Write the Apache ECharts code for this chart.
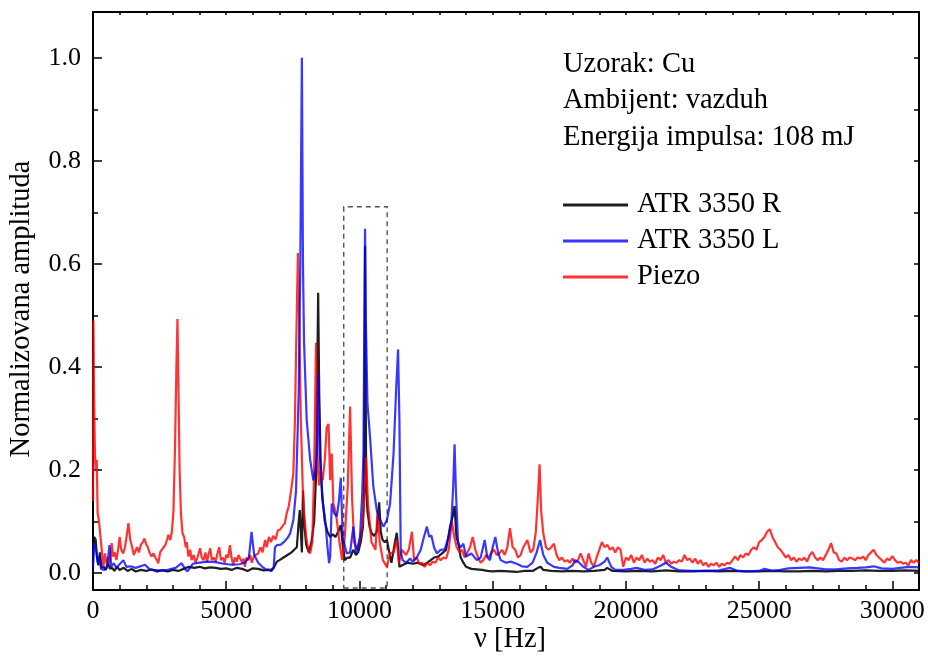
<!DOCTYPE html>
<html>
<head>
<meta charset="utf-8">
<script src="https://cdn.jsdelivr.net/npm/echarts@6/dist/echarts.min.js"></script>
<style>html,body{margin:0;padding:0;background:#fff}#c{width:928px;height:657px}</style>
</head>
<body>
<div id="c"></div>
<script>
// ---- data ----
const seriesNames = ['ATR 3350 R', 'ATR 3350 L', 'Piezo'];
const infoLines = ['Uzorak: Cu', 'Ambijent: vazduh', 'Energija impulsa: 108 mJ'];
const xTicksMajor = [0, 5000, 10000, 15000, 20000, 25000, 30000];
const xTicksMinor = [1000,2000,3000,4000,6000,7000,8000,9000,11000,12000,13000,14000,16000,17000,18000,19000,21000,22000,23000,24000,26000,27000,28000,29000];
const xTicksTop = [1000,2000,3000,4000,5000,6000,7000,8000,9000,10000,11000,12000,13000,14000,15000,16000,17000,18000,19000,20000,21000,22000,23000,24000,25000,26000,27000,28000,29000,30000];
const yTicksMajor = [0, 0.2, 0.4, 0.6, 0.8, 1.0];
const yTicksMinor = [0.1, 0.3, 0.5, 0.7, 0.9];
const yTicksRight = [0, 0.1, 0.2, 0.3, 0.4, 0.5, 0.6, 0.7, 0.8, 0.9, 1.0];
const zoomBox = [[9410, -0.029], [11040, 0.711]];

const atrR = [[0,0.02],[40,0.07],[100,0.065],[150,0.03],[200,0.015],[260,0.04],[320,0.01],[400,0.012],[480,0.006],[560,0.02],[640,0.008],[720,0.01],[800,0.004],[900,0.012],[1000,0.006],[1150,0.01],[1300,0.004],[1450,0.008],[1600,0.003],[1800,0.006],[2000,0.004],[2200,0.007],[2400,0.003],[2600,0.005],[2800,0.003],[3000,0.006],[3200,0.004],[3400,0.008],[3600,0.012],[3800,0.01],[4000,0.012],[4200,0.009],[4400,0.011],[4600,0.01],[4800,0.008],[5000,0.009],[5200,0.006],[5400,0.01],[5600,0.008],[5800,0.004],[6000,0.009],[6200,0.008],[6400,0.005],[6600,0.006],[6700,0.004],[6800,0.012],[6900,0.022],[7000,0.025],[7150,0.03],[7300,0.035],[7450,0.04],[7550,0.045],[7650,0.05],[7720,0.1],[7760,0.122],[7800,0.08],[7840,0.04],[7880,0.16],[7920,0.1],[8000,0.055],[8100,0.04],[8200,0.06],[8300,0.1],[8380,0.2],[8420,0.4],[8450,0.544],[8490,0.35],[8550,0.2],[8600,0.15],[8700,0.1],[8800,0.08],[8900,0.07],[9000,0.075],[9100,0.07],[9200,0.08],[9300,0.093],[9380,0.05],[9450,0.025],[9550,0.03],[9650,0.03],[9770,0.045],[9870,0.035],[9950,0.04],[10050,0.06],[10130,0.09],[10175,0.16],[10195,0.4],[10210,0.635],[10228,0.4],[10255,0.16],[10300,0.12],[10380,0.09],[10450,0.078],[10550,0.072],[10650,0.08],[10740,0.137],[10800,0.08],[10870,0.064],[10950,0.06],[11030,0.064],[11120,0.04],[11200,0.02],[11300,0.05],[11400,0.078],[11450,0.05],[11500,0.012],[11600,0.015],[11800,0.02],[12000,0.018],[12200,0.02],[12400,0.015],[12600,0.022],[12800,0.03],[12950,0.032],[13100,0.038],[13250,0.045],[13400,0.09],[13500,0.11],[13570,0.13],[13640,0.07],[13720,0.057],[13800,0.03],[13900,0.02],[14000,0.012],[14200,0.008],[14400,0.007],[14600,0.006],[14800,0.004],[15000,0.003],[15300,0.004],[15600,0.003],[15900,0.002],[16200,0.004],[16500,0.004],[16700,0.01],[16800,0.012],[16900,0.006],[17200,0.004],[17600,0.003],[18000,0.004],[18400,0.003],[18800,0.004],[19200,0.006],[19300,0.01],[19500,0.004],[20000,0.003],[20500,0.004],[21000,0.003],[21500,0.005],[22000,0.003],[22500,0.003],[23000,0.004],[23500,0.003],[24000,0.004],[24500,0.003],[25000,0.003],[25500,0.004],[26000,0.003],[26500,0.003],[27000,0.004],[27500,0.003],[28000,0.004],[28500,0.004],[29000,0.005],[29500,0.004],[30000,0.004],[30500,0.005],[31000,0.004]];

const atrL = [[0,0.01],[30,0.058],[80,0.055],[130,0.04],[180,0.02],[240,0.032],[300,0.008],[420,0.006],[520,0.01],[620,0.054],[680,0.012],[780,0.019],[880,0.01],[980,0.016],[1140,0.025],[1250,0.012],[1400,0.013],[1600,0.01],[1950,0.016],[2150,0.006],[2500,0.005],[2800,0.006],[3100,0.01],[3330,0.019],[3450,0.008],[3550,0.003],[3750,0.018],[4000,0.02],[4300,0.022],[4600,0.021],[4900,0.018],[5200,0.016],[5500,0.017],[5700,0.02],[5850,0.03],[5950,0.08],[6050,0.035],[6200,0.02],[6350,0.012],[6500,0.007],[6650,0.006],[6780,0.01],[6830,0.05],[6900,0.054],[7050,0.055],[7200,0.062],[7300,0.068],[7400,0.077],[7520,0.103],[7620,0.16],[7720,0.35],[7780,0.6],[7840,1.0],[7880,0.6],[7920,0.45],[8020,0.297],[8150,0.22],[8270,0.18],[8350,0.2],[8400,0.232],[8460,0.385],[8510,0.23],[8630,0.135],[8720,0.1],[8800,0.05],[8860,0.019],[8900,0.03],[8960,0.135],[9050,0.116],[9150,0.11],[9230,0.14],[9300,0.185],[9370,0.07],[9520,0.038],[9650,0.04],[9770,0.09],[9880,0.038],[10020,0.07],[10100,0.15],[10150,0.232],[10180,0.45],[10210,0.668],[10240,0.49],[10300,0.33],[10400,0.262],[10520,0.168],[10650,0.122],[10780,0.103],[10900,0.09],[11030,0.103],[11150,0.135],[11280,0.232],[11380,0.36],[11450,0.434],[11500,0.297],[11550,0.04],[11620,0.025],[11750,0.02],[11900,0.028],[12000,0.022],[12150,0.03],[12300,0.045],[12420,0.07],[12530,0.09],[12620,0.07],[12700,0.073],[12800,0.05],[12900,0.038],[13050,0.045],[13200,0.046],[13350,0.07],[13450,0.097],[13520,0.17],[13570,0.25],[13620,0.16],[13700,0.057],[13800,0.05],[13900,0.057],[14000,0.032],[14200,0.038],[14400,0.025],[14550,0.03],[14700,0.064],[14800,0.03],[14900,0.025],[15000,0.05],[15100,0.07],[15200,0.04],[15300,0.025],[15500,0.02],[15700,0.022],[15900,0.018],[16100,0.013],[16300,0.012],[16500,0.02],[16650,0.04],[16780,0.064],[16900,0.035],[17050,0.02],[17300,0.012],[17500,0.01],[17800,0.008],[18000,0.015],[18100,0.025],[18250,0.02],[18400,0.012],[18600,0.006],[18800,0.012],[19000,0.015],[19200,0.022],[19300,0.03],[19450,0.012],[19600,0.006],[19900,0.006],[20200,0.008],[20400,0.01],[20700,0.006],[21000,0.007],[21300,0.014],[21500,0.02],[21700,0.012],[22000,0.005],[22500,0.004],[23000,0.004],[23500,0.005],[23900,0.01],[24200,0.004],[24600,0.003],[25000,0.004],[25200,0.008],[25500,0.004],[25800,0.006],[26100,0.009],[26500,0.01],[26900,0.011],[27200,0.009],[27500,0.007],[27900,0.007],[28300,0.009],[28700,0.01],[29000,0.011],[29300,0.013],[29600,0.009],[30000,0.008],[30300,0.01],[30600,0.012],[31000,0.011]];

const piezo = [[0,0.14],[15,0.49],[40,0.35],[75,0.226],[110,0.2],[140,0.22],[175,0.116],[220,0.103],[260,0.1],[300,0.06],[330,0.058],[390,0.012],[450,0.038],[510,0.019],[570,0.03],[640,0.019],[700,0.058],[760,0.032],[820,0.04],[880,0.025],[940,0.045],[1000,0.07],[1060,0.045],[1130,0.038],[1200,0.05],[1260,0.07],[1330,0.097],[1400,0.064],[1470,0.05],[1530,0.035],[1580,0.032],[1650,0.05],[1720,0.04],[1800,0.055],[1870,0.06],[1930,0.067],[2000,0.055],[2060,0.05],[2120,0.04],[2200,0.032],[2270,0.038],[2340,0.03],[2400,0.025],[2450,0.019],[2520,0.04],[2580,0.045],[2650,0.05],[2720,0.055],[2780,0.065],[2830,0.074],[2900,0.064],[2960,0.08],[3020,0.12],[3080,0.25],[3130,0.4],[3170,0.493],[3210,0.35],[3250,0.2],[3300,0.116],[3360,0.077],[3420,0.07],[3480,0.05],[3520,0.06],[3580,0.032],[3650,0.045],[3700,0.025],[3780,0.035],[3850,0.02],[3920,0.03],[4020,0.048],[4080,0.03],[4150,0.025],[4220,0.04],[4280,0.022],[4330,0.035],[4400,0.048],[4460,0.025],[4530,0.03],[4600,0.022],[4680,0.04],[4740,0.05],[4800,0.025],[4870,0.03],[4940,0.02],[5000,0.035],[5070,0.03],[5140,0.054],[5200,0.03],[5260,0.015],[5330,0.03],[5400,0.022],[5460,0.035],[5520,0.032],[5600,0.02],[5650,0.028],[5700,0.012],[5760,0.03],[5830,0.025],[5900,0.035],[5960,0.02],[6020,0.03],[6100,0.035],[6200,0.038],[6280,0.05],[6360,0.04],[6460,0.064],[6520,0.05],[6600,0.07],[6680,0.06],[6760,0.072],[6850,0.065],[6940,0.083],[7020,0.084],[7100,0.09],[7200,0.097],[7270,0.116],[7350,0.13],[7400,0.148],[7460,0.17],[7520,0.194],[7580,0.3],[7620,0.427],[7690,0.621],[7740,0.49],[7800,0.297],[7870,0.168],[7920,0.12],[8000,0.07],[8080,0.045],[8150,0.038],[8230,0.06],[8300,0.2],[8370,0.447],[8420,0.232],[8480,0.17],[8550,0.2],[8620,0.18],[8700,0.22],[8770,0.283],[8840,0.289],[8900,0.18],[8960,0.232],[9020,0.135],[9100,0.12],[9150,0.103],[9250,0.06],[9350,0.025],[9450,0.07],[9560,0.168],[9650,0.323],[9720,0.15],[9800,0.06],[9900,0.045],[10000,0.06],[10100,0.09],[10150,0.116],[10250,0.225],[10320,0.135],[10450,0.06],[10600,0.045],[10680,0.122],[10760,0.06],[10880,0.025],[11030,0.012],[11150,0.038],[11280,0.04],[11400,0.064],[11480,0.019],[11600,0.045],[11750,0.035],[11850,0.045],[11970,0.08],[12050,0.025],[12150,0.03],[12250,0.018],[12350,0.02],[12450,0.012],[12550,0.02],[12650,0.015],[12750,0.022],[12850,0.02],[12950,0.03],[13050,0.025],[13150,0.03],[13250,0.028],[13350,0.045],[13470,0.1],[13560,0.07],[13650,0.05],[13760,0.04],[13850,0.045],[13950,0.03],[14050,0.04],[14150,0.05],[14250,0.07],[14350,0.045],[14450,0.03],[14550,0.02],[14650,0.025],[14750,0.035],[14850,0.03],[14950,0.04],[15050,0.045],[15150,0.035],[15250,0.038],[15350,0.045],[15450,0.035],[15550,0.05],[15650,0.087],[15750,0.05],[15850,0.045],[15950,0.03],[16050,0.035],[16150,0.05],[16300,0.064],[16420,0.04],[16520,0.045],[16620,0.08],[16700,0.15],[16760,0.211],[16820,0.12],[16900,0.077],[17000,0.05],[17100,0.045],[17200,0.05],[17300,0.057],[17400,0.035],[17500,0.025],[17600,0.03],[17700,0.022],[17800,0.025],[17900,0.02],[18000,0.028],[18100,0.02],[18200,0.025],[18300,0.038],[18400,0.025],[18500,0.012],[18600,0.038],[18700,0.02],[18800,0.012],[18900,0.03],[19000,0.045],[19100,0.06],[19200,0.05],[19300,0.055],[19400,0.045],[19500,0.05],[19600,0.04],[19700,0.05],[19800,0.045],[19900,0.012],[20000,0.03],[20100,0.025],[20200,0.035],[20300,0.02],[20400,0.03],[20500,0.025],[20600,0.035],[20700,0.02],[20800,0.028],[20900,0.022],[21000,0.025],[21100,0.018],[21200,0.03],[21300,0.025],[21400,0.035],[21500,0.02],[21600,0.025],[21700,0.018],[21800,0.022],[21900,0.02],[22000,0.025],[22100,0.022],[22200,0.035],[22300,0.025],[22400,0.028],[22500,0.02],[22600,0.028],[22700,0.018],[22800,0.025],[22900,0.015],[23000,0.02],[23100,0.012],[23200,0.018],[23300,0.015],[23400,0.02],[23500,0.012],[23600,0.018],[23700,0.015],[23800,0.02],[23900,0.018],[24000,0.025],[24100,0.032],[24200,0.025],[24300,0.035],[24400,0.03],[24500,0.038],[24600,0.035],[24700,0.045],[24800,0.05],[24900,0.045],[25000,0.06],[25100,0.064],[25200,0.07],[25300,0.08],[25400,0.085],[25500,0.07],[25600,0.06],[25700,0.05],[25800,0.045],[25900,0.038],[26000,0.03],[26100,0.035],[26200,0.025],[26300,0.03],[26400,0.022],[26500,0.028],[26600,0.025],[26700,0.03],[26800,0.022],[26900,0.035],[27000,0.041],[27100,0.03],[27200,0.025],[27300,0.03],[27400,0.025],[27500,0.035],[27600,0.045],[27700,0.058],[27800,0.04],[27900,0.038],[28000,0.025],[28100,0.022],[28200,0.03],[28300,0.025],[28400,0.03],[28500,0.028],[28600,0.025],[28700,0.03],[28800,0.028],[28900,0.032],[29000,0.025],[29100,0.035],[29200,0.04],[29300,0.045],[29400,0.035],[29500,0.03],[29600,0.025],[29700,0.02],[29800,0.028],[29900,0.025],[30000,0.033],[30100,0.025],[30200,0.02],[30300,0.022],[30400,0.018],[30500,0.02],[30600,0.015],[30700,0.025],[30800,0.02],[30900,0.025],[31000,0.02]];

// ---- chart ----
const FONT = 'Liberation Serif';
const X_MIN = 0, X_MAX = 31000, Y_MIN = -0.033, Y_MAX = 1.089;
const chart = echarts.init(document.getElementById('c'), null, {renderer: 'canvas'});
const axisLine = {show: true, onZero: false, lineStyle: {color: '#000', width: 2}};
const noLine = {show: false, onZero: false};
function xAx(pos, ticks, len, showLine, labels) {
  return {
    type: 'value', position: pos, min: X_MIN, max: X_MAX,
    axisLine: showLine ? axisLine : noLine,
    axisTick: {show: true, inside: true, length: len, customValues: ticks, lineStyle: {color: '#000', width: 1.5}},
    axisLabel: labels ? {show: true, customValues: ticks, formatter: v => String(v), fontFamily: FONT, fontSize: 26, color: '#000', margin: 8} : {show: false},
    splitLine: {show: false}
  };
}
function yAx(pos, ticks, len, showLine, labels) {
  return {
    type: 'value', position: pos, min: Y_MIN, max: Y_MAX,
    axisLine: showLine ? axisLine : noLine,
    axisTick: {show: true, inside: true, length: len, customValues: ticks, lineStyle: {color: '#000', width: 1.5}},
    axisLabel: labels ? {show: true, customValues: ticks, formatter: v => v.toFixed(1), fontFamily: FONT, fontSize: 26, color: '#000', margin: 12} : {show: false},
    splitLine: {show: false}
  };
}
const colors = ['rgba(0,0,0,0.88)', 'rgba(0,0,255,0.78)', 'rgba(255,0,0,0.8)'];
const lineSeries = (name, data, color, z) => ({
  name, type: 'line', data, xAxisIndex: 0, yAxisIndex: 0, showSymbol: false, symbol: 'none',
  sampling: null, animation: false, z,
  lineStyle: {color, width: 2.2}, itemStyle: {color}, color
});
const sR = lineSeries(seriesNames[0], atrR, colors[0], 2);
sR.markArea = {
  silent: true,
  itemStyle: {color: 'rgba(0,0,0,0)', borderColor: '#555', borderWidth: 1.4, borderType: [5, 4]},
  data: [[{coord: zoomBox[0]}, {coord: zoomBox[1]}]]
};
const option = {
  animation: false,
  backgroundColor: '#fff',
  grid: {left: 93, right: 9, top: 12, bottom: 67, containLabel: false},
  xAxis: [
    xAx('bottom', xTicksMajor, 9, true, true),
    xAx('bottom', xTicksMinor, 5, false, false),
    xAx('top', xTicksTop, 3, true, false)
  ],
  yAxis: [
    yAx('left', yTicksMajor, 9, true, true),
    yAx('left', yTicksMinor, 5, false, false),
    yAx('right', yTicksRight, 5, true, false)
  ],
  legend: {
    show: true, orient: 'vertical', left: 563, top: 190, itemGap: 6, padding: 0,
    itemWidth: 65, itemHeight: 3, icon: 'rect',
    data: [seriesNames[0], seriesNames[1], seriesNames[2]],
    textStyle: {fontFamily: FONT, fontSize: 28.5, color: '#000', lineHeight: 30, padding: [0, 0, 0, 4]}
  },
  graphic: [
    {type: 'text', x: 563, y: 46, style: {text: infoLines.join('\n'), font: '28.5px "Liberation Serif"', fill: '#000', lineHeight: 36.5, textVerticalAlign: 'top'}},
    {type: 'text', x: 22, y: 309, rotation: Math.PI / 2, style: {text: 'Normalizovana amplituda', font: '28.5px "Liberation Serif"', fill: '#000', textAlign: 'center', textVerticalAlign: 'middle'}},
    {type: 'text', x: 510, y: 640, style: {text: 'ν [Hz]', font: '28.5px "Liberation Serif"', fill: '#000', textAlign: 'center', textVerticalAlign: 'middle'}}
  ],
  series: [sR, lineSeries(seriesNames[2], piezo, colors[2], 3), lineSeries(seriesNames[1], atrL, colors[1], 4)]
};
chart.setOption(option);
</script>
</body>
</html>
